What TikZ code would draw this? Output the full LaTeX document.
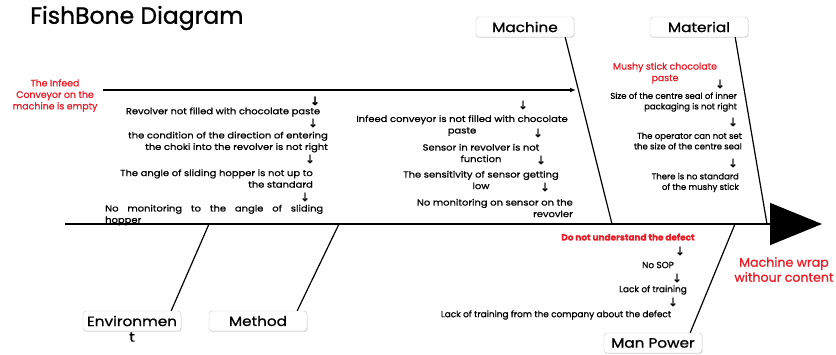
\documentclass[tikz,border=0pt]{standalone}
\usepackage{fontspec}
\setmainfont{Poppins}[FakeBold=1]
\newfontfamily\widefont{Poppins}[FakeStretch=1.13, FakeBold=1]
\newfontfamily\arrowfont{DejaVu Sans}[FakeBold=1.5]
\usetikzlibrary{arrows.meta,positioning,shadows}

\definecolor{effectred}{RGB}{230,30,40}
\definecolor{boxline}{RGB}{200,200,200}

\begin{document}
\begin{tikzpicture}[
                x=1pt, y=-1pt,
                CatBox/.style={draw=boxline, fill=white, rounded corners=3pt, minimum width=98pt, minimum height=20pt,
                    inner sep=1pt, font=\widefont\fontsize{13.5}{14}\selectfont, drop shadow={opacity=0.25, shadow xshift=0.6pt, shadow yshift=-0.8pt}},
                CauseText/.style={font=\widefont\fontsize{8.8}{11.5}\selectfont, inner sep=0pt},
                SmallText/.style={font=\fontsize{8.5}{10.5}\selectfont, inner sep=0pt},
                RedText/.style={font=\fontsize{9.4}{11.5}\selectfont, inner sep=0pt, text=effectred},
                DownMark/.style={font=\arrowfont\fontsize{11.5}{11.5}\selectfont, inner sep=0pt},
                Bone/.style={line width=1.2pt},
            ]
            \useasboundingbox (0,0) rectangle (836,354);
            % title
            \node [anchor=west, font=\fontsize{23.5}{24}\selectfont, inner sep=0pt] (title) at (30,18) {FishBone Diagram};

            % categories
            \node [CatBox] (mach) at (525,27) {Machine};
            \node [CatBox] (mat) at (699,27) {Material};
            \node [CatBox] (env) at (132,321) {Environmen};
            \node [font=\widefont\fontsize{13.5}{14}\selectfont, inner sep=0pt] (envt) at (132,337) {t};
            \node [CatBox] (meth) at (258,321) {Method};
            \node [CatBox] (man) at (653,343) {Man Power};

            % spine and head
            \coordinate (tail) at (65,224);
            \coordinate (head) at (822,224);
            \draw [line width=1.6pt, -{Triangle[length=52pt, width=42pt]}] (tail) -- (head);
            \node [font=\fontsize{12.6}{15}\selectfont, text=effectred, align=center] (effect) at (784,269.5) {Machine wrap\\withour content};

            % bones
            \coordinate (machEnd) at (612,224);
            \coordinate (matEnd) at (767,224);
            \coordinate (envEnd) at (209,224);
            \coordinate (methEnd) at (339,224);
            \coordinate (manEnd) at (735,224);
            \draw [Bone] ([xshift=-9pt]mach.south east) -- (machEnd);
            \draw [Bone] ([xshift=-13pt]mat.south east) -- (matEnd);
            \draw [Bone] ([xshift=-10pt]env.north east) -- (envEnd);
            \draw [Bone] ([xshift=-10pt]meth.north east) -- (methEnd);
            \draw [Bone] ([xshift=-12pt]man.north east) -- (manEnd);

            % upper problem arrow
            \node [RedText, align=center] (infeed) at (55,95.5) {The Infeed\\Conveyor on the\\machine is empty};
            \coordinate (infeedEnd) at (576,90);
            \draw [line width=1.2pt, -{Latex[length=6pt, width=5pt]}] (103,90) -- (infeedEnd);

            % method side causes
            \node [DownMark, font=\arrowfont\bfseries\fontsize{11.5}{11.5}\selectfont] (a1) at (315,101) {↓};
            \node [CauseText] (m1) at (223,112) {Revolver not filled with chocolate paste};
            \node [DownMark] (a2) at (313,123) {↓};
            \node [CauseText, align=right, anchor=east] (m2) at (328,142) {the condition of the direction of entering\\the choki into the revolver is not right};
            \node [DownMark] (a3) at (310,159) {↓};
            \node [CauseText, align=right, anchor=east] (m3) at (313,178.5) {The angle of sliding hopper is not up to\\the standard};
            \node [DownMark] (a4) at (305,197) {↓};
            \node [CauseText, text width=218pt, align=left, anchor=west] (m4) at (105,215) {No\hfill monitoring\hfill to\hfill the\hfill angle\hfill of\hfill sliding\\hopper};

            % machine side causes
            \node [DownMark] (b1) at (523,105) {↓};
            \node [CauseText, align=center] (c1) at (462,125.5) {Infeed conveyor is not filled with chocolate\\paste};
            \node [DownMark] (b2) at (538,133) {↓};
            \node [CauseText, align=center] (c2) at (481,153) {Sensor in revolver is not\\function};
            \node [DownMark] (b3) at (541,160) {↓};
            \node [CauseText, align=center] (c3) at (481,180) {The sensitivity of sensor getting\\low};
            \node [DownMark] (b4) at (545,187) {↓};
            \node [CauseText, align=right, anchor=east] (c4) at (573,208) {No monitoring on sensor on the\\revovler};

            % material side causes
            \node [RedText, align=center] (d0) at (665,73) {Mushy stick chocolate\\paste};
            \node [DownMark] (e1) at (720,84) {↓};
            \node [SmallText, align=right, anchor=east] (d1) at (737,102) {Size of the centre seal of inner\\packaging is not right};
            \node [DownMark] (e2) at (733,122) {↓};
            \node [SmallText, align=right, anchor=east] (d2) at (742,141) {The operator can not set\\the size of the centre seal};
            \node [DownMark] (e3) at (733,163) {↓};
            \node [SmallText, align=right, anchor=east] (d3) at (739,182.5) {There is no standard\\of the mushy stick};

            % man power side causes
            \node [SmallText, text=effectred, font=\bfseries\fontsize{8.9}{10}\selectfont] (f0) at (628,237) {Do not understand the defect};
            \node [DownMark] (g1) at (680,251) {↓};
            \node [SmallText, font=\fontsize{8.9}{10}\selectfont] (f1) at (658,265) {No SOP};
            \node [DownMark] (g2) at (677,278) {↓};
            \node [SmallText, font=\fontsize{8.9}{10}\selectfont] (f2) at (653,290) {Lack of training};
            \node [DownMark] (g3) at (673,302) {↓};
            \node [SmallText, font=\fontsize{8.9}{10}\selectfont] (f3) at (556,315) {Lack of training from the company about the defect};
        \end{tikzpicture}
\end{document}
